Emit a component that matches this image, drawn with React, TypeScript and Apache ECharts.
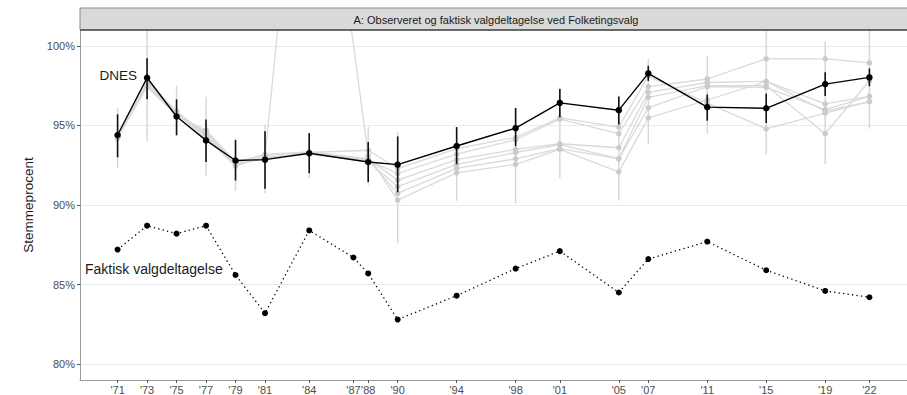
import React, { useEffect, useRef } from "react";
import * as echarts from "echarts";

const YEARS = [1971, 1973, 1975, 1977, 1979, 1981, 1984, 1987, 1988, 1990, 1994, 1998, 2001, 2005, 2007, 2011, 2015, 2019, 2022];
const Y_TICKS = [80, 85, 90, 95, 100];

const DNES = [94.4, 98.0, 95.56, 94.06, 92.8, 92.85, 93.25, null, 92.7, 92.54, 93.71, 94.83, 96.42, 95.96, 98.27, 96.15, 96.08, 97.6, 98.02];
const DNES_LOW = [93.0, 96.64, 94.38, 92.71, 91.54, 91.02, 92.0, null, 91.44, 90.8, 92.56, 93.7, 95.52, 95.06, 97.8, 95.3, 95.15, 96.85, 97.46];
const DNES_HIGH = [95.7, 99.23, 96.64, 95.38, 94.08, 94.63, 94.52, null, 93.96, 94.31, 94.9, 96.1, 97.29, 96.82, 98.75, 96.95, 97.0, 98.34, 98.58];

const ACTUAL = [87.2, 88.7, 88.2, 88.7, 85.6, 83.2, 88.4, 86.7, 85.7, 82.8, 84.3, 86.0, 87.1, 84.5, 86.6, 87.7, 85.9, 84.6, 84.2];

const G1 = [94.3, 97.7, 95.7, 94.5, 92.6, 92.9, 93.3, null, 93.44, 92.29, 93.55, 94.25, 95.48, 94.9, 98.1, 96.4, 94.79, 95.77, 96.5];
const G2 = [94.2, 97.5, 95.8, 94.3, 92.5, 93.0, 93.25, null, 92.8, 91.98, 93.2, 94.1, 95.4, 94.48, 97.44, 97.92, 99.19, 99.19, 98.94];
const G3 = [94.35, 97.6, 95.6, 94.7, 92.7, 93.1, 93.35, null, 92.9, 91.56, 92.85, 93.5, 93.85, 93.6, 97.08, 97.7, 97.77, 96.35, 96.83];
const G4 = [94.25, 97.8, 95.9, 94.4, 92.55, 92.95, 93.2, null, 92.75, 91.15, 92.56, 93.3, 93.8, 92.92, 96.77, 97.5, 97.5, 94.48, 97.81];
const G5 = [94.3, 97.4, 95.65, 94.6, 92.65, 93.2, 93.3, null, 92.85, 90.73, 92.3, 92.9, 93.54, 92.9, 96.1, 97.44, 97.4, 96.0, 96.83];
const G6 = [94.2, 97.65, 95.75, 94.2, 92.45, 93.0, 121.0, null, 93.1, 90.31, 92.02, 92.56, 93.5, 92.08, 95.48, 96.6, 97.77, 95.9, 96.5];
const GREY_SERIES = [G1, G2, G3, G4, G5, G6];

const GREY_LOW = [92.3, 94.0, 94.4, 91.8, 90.9, 90.75, 91.7, null, 91.25, 87.6, 90.27, 90.1, 91.67, 90.3, 93.85, 94.48, 93.2, 92.56, 94.79];
const GREY_HIGH = [96.1, 101.5, 97.5, 96.8, 94.2, 95.06, 94.5, null, 94.9, 94.6, 94.9, 96.04, 97.4, 96.9, 99.17, 99.38, 101.5, 100.3, 101.5];

const X_MIN = 1968.45;
const X_MAX = 2024.55;
const Y_MIN = 79;
const Y_MAX = 101;

const FONT = "'Liberation Sans', Arial, Helvetica, sans-serif";

function pairs(vals: (number | null)[]) {
  return YEARS.map((y, i) => [y, vals[i]]);
}

function ranges(lo: (number | null)[], hi: (number | null)[]) {
  const out: number[][] = [];
  YEARS.forEach((y, i) => {
    if (lo[i] != null && hi[i] != null) out.push([y, lo[i] as number, hi[i] as number]);
  });
  return out;
}

function errorBarSeries(data: number[][], color: string, width: number, z: number) {
  return {
    type: "custom",
    z,
    clip: true,
    silent: true,
    data,
    encode: { x: 0, y: [1, 2] },
    renderItem: (params: any, api: any) => {
      const x = api.value(0);
      const lo = Math.max(api.value(1), Y_MIN);
      const hi = Math.min(api.value(2), Y_MAX);
      const p1 = api.coord([x, lo]);
      const p2 = api.coord([x, hi]);
      return {
        type: "line",
        shape: { x1: p1[0], y1: p1[1], x2: p2[0], y2: p2[1] },
        style: { stroke: color, lineWidth: width },
      };
    },
  };
}

export default function App() {
  const ref = useRef<HTMLDivElement>(null);

  useEffect(() => {
    if (!ref.current) return;
    const chart = echarts.init(ref.current, null, { renderer: "svg" });

    const greyLines = GREY_SERIES.map((g, idx) => ({
      type: "line",
      z: 2,
      data: pairs(g),
      connectNulls: true,
      symbol: "circle",
      symbolSize: 5.5,
      showSymbol: true,
      itemStyle: { color: "#cbcbcb" },
      lineStyle: { color: "#dadada", width: 1.3 },
      silent: true,
      ...(idx === 0
        ? {
            markLine: {
              silent: true,
              symbol: "none",
              label: { show: false },
              lineStyle: { color: "#ebebeb", width: 1, type: "solid" },
              data: Y_TICKS.map((v) => ({ yAxis: v })),
              z: 0,
            },
          }
        : {}),
    }));

    chart.setOption({
      animation: false,
      grid: { left: 80, right: -5, top: 30, bottom: 15, containLabel: false },
      xAxis: {
        type: "value",
        min: X_MIN,
        max: X_MAX,
        splitLine: { show: false },
        axisLine: { show: true, lineStyle: { color: "#9a9a9a", width: 1 } },
        axisTick: { show: true, length: 3, lineStyle: { color: "#555" }, customValues: YEARS },
        axisLabel: {
          customValues: YEARS,
          formatter: (v: number) => "'" + String(Math.round(v)).slice(2),
          fontSize: 11,
          color: "#4d4d4d",
          fontFamily: FONT,
          margin: 4,
        },
      },
      yAxis: {
        type: "value",
        min: Y_MIN,
        max: Y_MAX,
        splitLine: { show: false },
        axisLine: { show: true, lineStyle: { color: "#9a9a9a", width: 1 } },
        axisTick: { show: true, length: 3, lineStyle: { color: "#555" }, customValues: Y_TICKS },
        axisLabel: {
          customValues: Y_TICKS,
          formatter: (v: number) => Math.round(v) + "%",
          fontSize: 11,
          color: "#4d4d4d",
          fontFamily: FONT,
          margin: 5,
        },
      },
      graphic: [
        {
          type: "rect",
          shape: { x: 80, y: 8, width: 900, height: 22 },
          style: { fill: "#d9d9d9", stroke: "#8c8c8c", lineWidth: 1 },
          z: 10,
        },
        {
          type: "line",
          shape: { x1: 80, y1: 30, x2: 907, y2: 30 },
          style: { stroke: "#4d4d4d", lineWidth: 1.5 },
          z: 11,
        },
        {
          type: "text",
          x: 496,
          y: 19.5,
          style: {
            text: "A: Observeret og faktisk valgdeltagelse ved Folketingsvalg",
            fill: "#1a1a1a",
            fontSize: 11,
            fontFamily: FONT,
            align: "center",
            verticalAlign: "middle",
          },
          z: 12,
        },
        {
          type: "text",
          x: 28,
          y: 205,
          rotation: Math.PI / 2,
          style: {
            text: "Stemmeprocent",
            fill: "#1a1a1a",
            fontSize: 13.5,
            fontFamily: FONT,
            align: "center",
            verticalAlign: "middle",
          },
          z: 12,
        },
        {
          type: "text",
          x: 137,
          y: 75,
          style: {
            text: "DNES",
            fill: "#1a1a1a",
            fontSize: 13.5,
            fontFamily: FONT,
            align: "right",
            verticalAlign: "middle",
          },
          z: 12,
        },
        {
          type: "text",
          x: 85,
          y: 269,
          style: {
            text: "Faktisk valgdeltagelse",
            fill: "#1a1a1a",
            fontSize: 14,
            fontFamily: FONT,
            align: "left",
            verticalAlign: "middle",
          },
          z: 12,
        },
      ],
      series: [
        errorBarSeries(ranges(GREY_LOW, GREY_HIGH), "#d6d6d6", 1.4, 1),
        ...greyLines,
        errorBarSeries(ranges(DNES_LOW, DNES_HIGH), "#111111", 1.6, 3),
        {
          type: "line",
          z: 4,
          data: pairs(DNES),
          connectNulls: true,
          symbol: "circle",
          symbolSize: 6.5,
          itemStyle: { color: "#000" },
          lineStyle: { color: "#000", width: 1.4 },
          silent: true,
        },
        {
          type: "line",
          z: 4,
          data: pairs(ACTUAL),
          symbol: "circle",
          symbolSize: 6,
          itemStyle: { color: "#000" },
          lineStyle: { color: "#000", width: 1.3, type: [1.3, 3.2] },
          silent: true,
        },
      ],
    });

    return () => chart.dispose();
  }, []);

  return (
    <div
      ref={ref}
      style={{ position: "fixed", left: 0, top: 0, width: 907, height: 395, background: "#fff" }}
    />
  );
}
